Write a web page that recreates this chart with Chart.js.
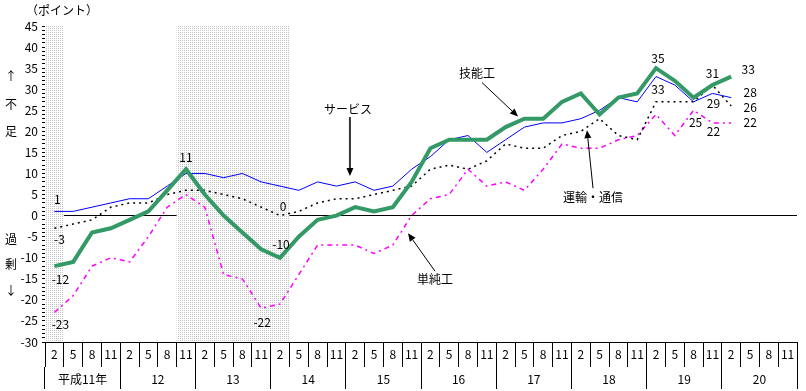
<!DOCTYPE html>
<html><head><meta charset="utf-8">
<script src="https://cdn.jsdelivr.net/npm/chart.js@4/dist/chart.umd.min.js"></script>
<style>html,body{margin:0;padding:0;background:#fff;}#wrap{position:relative;width:806px;height:391px;}</style>
</head><body><div id="wrap"><canvas id="c" width="806" height="391"></canvas></div>
<script>
// ---- data ----
const years = ['平成11年','12','13','14','15','16','17','18','19','20'];
const months = ['2','5','8','11'];
const seriesNames = ['技能工','サービス','運輸・通信','単純工'];
const skilled   = [-12,-11,-4,-3,-1,1,6,11,5,0,-4,-8,-10,-5,-1,0,2,1,2,8,16,18,18,18,21,23,23,27,29,24,28,29,35,32,28,31,33];
const service   = [1,1,2,3,4,4,7,10,10,9,10,8,7,6,8,7,8,6,7,11,14,18,19,15,18,21,22,22,23,25,28,27,33,31,27,29,28];
const transport = [-3,-2,-1,2,3,3,5,6,6,5,4,2,0,1,3,4,4,5,6,7,11,12,11,13,17,16,16,19,20,23,19,18,27,27,27,31,26];
const unskilled = [-23,-19,-12,-10,-11,-5,2,5,2,-14,-15,-22,-21,-14,-7,-7,-7,-9,-7,0,4,5,11,7,8,6,11,17,16,16,18,19,24,19,25,22,22];
const shadedSpans = [[0,0],[7,12]]; // category index ranges (recession periods)
const yTickValues = [-30,-25,-20,-15,-10,-5,0,5,10,15,20,25,30,35,40,45];

// ---- build ----
const labels = [];
years.forEach(()=>months.forEach(m=>labels.push(m)));
const allSeries = [skilled, service, transport, unskilled];
const FONT = "'Noto Sans CJK JP','Noto Sans',sans-serif";
Chart.defaults.font.family = FONT;
Chart.defaults.font.size = 12;
Chart.defaults.color = '#000';

function makePattern(){
  const p = document.createElement('canvas'); p.width=2; p.height=2;
  const g = p.getContext('2d');
  g.fillStyle='#fff'; g.fillRect(0,0,2,2);
  g.fillStyle='#c4c4c4'; g.fillRect(0,0,1,1);
  return p;
}

const shadePlugin = {
  id:'shade',
  beforeDatasetsDraw(chart){
    const {ctx, chartArea:a, scales:{x}} = chart;
    const pat = ctx.createPattern(makePattern(),'repeat');
    const half = (x.getPixelForValue(1)-x.getPixelForValue(0))/2;
    ctx.save();
    ctx.fillStyle = pat;
    shadedSpans.forEach(([s,e])=>{
      const x0 = x.getPixelForValue(s)-half, x1 = x.getPixelForValue(e)+half;
      ctx.fillRect(x0, a.top, x1-x0, a.bottom-a.top);
    });
    ctx.restore();
  }
};

// label specs: series index, category index, offsets
const labelSpecs = [
  {s:1,i:0,dx:3,dy:-12},{s:2,i:0,dx:5,dy:11},{s:0,i:0,dx:6,dy:13},{s:3,i:0,dx:6,dy:12},
  {s:0,i:7,dx:0,dy:-12},{s:2,i:12,dx:3,dy:-9},{s:0,i:12,dx:1,dy:-13},{s:3,i:11,dx:1,dy:14},
  {s:0,i:32,dx:2,dy:-10},{s:1,i:32,dx:2,dy:13},
  {s:0,i:35,dx:0,dy:-12},{s:1,i:35,dx:1,dy:10},{s:3,i:34,dx:2,dy:12},{s:3,i:35,dx:1,dy:9},
  {s:0,i:36,dx:17,dy:-7},{s:1,i:36,dx:19,dy:-5},{s:2,i:36,dx:19,dy:1},{s:3,i:36,dx:19,dy:0}
];
const labelPlugin = {
  id:'dlabels',
  afterDatasetsDraw(chart){
    const {ctx, scales:{x,y}} = chart;
    ctx.save();
    ctx.font = '12px '+FONT; ctx.fillStyle='#000';
    ctx.textAlign='center'; ctx.textBaseline='middle';
    labelSpecs.forEach(l=>{
      const v = allSeries[l.s][l.i];
      ctx.fillText(String(v), x.getPixelForValue(l.i)+l.dx, y.getPixelForValue(v)+l.dy);
    });
    ctx.restore();
  }
};

// annotations anchored on series
const notes = [
  {text:'サービス', s:1, at:15.72, tipDy:-7, tdx:-2, tdy:-67, sdx:0, sdy:-59, w:2, col:'#333'},
  {text:'技能工', s:0, at:24.66, tipDy:-5, tdx:-41, tdy:-43, sdx:-36, sdy:-34, w:1, col:'#000'},
  {text:'単純工', s:3, at:18.81, tipDy:12, tdx:27, tdy:46, sdx:27, sdy:38, w:1, col:'#000'},
  {text:'運輸・通信', s:2, at:28.33, tipDy:3, tdx:6, tdy:67, sdx:6, sdy:58, w:1, col:'#000'}
];
function interp(arr, t){
  const i = Math.floor(t), f = t-i;
  return arr[i] + (arr[Math.min(i+1,arr.length-1)]-arr[i])*f;
}
const notePlugin = {
  id:'notes',
  afterDraw(chart){
    const {ctx, scales:{x,y}} = chart;
    ctx.save();
    ctx.font = '12px '+FONT;
    ctx.textAlign='center'; ctx.textBaseline='middle';
    notes.forEach(n=>{
      const tx = x.getPixelForValue(n.at), ty = y.getPixelForValue(interp(allSeries[n.s], n.at)) + n.tipDy;
      ctx.fillStyle='#000';
      ctx.fillText(n.text, tx+n.tdx, ty+n.tdy);
      const sx = tx+n.sdx, sy = ty+n.sdy;
      const ang = Math.atan2(ty-sy, tx-sx);
      const L=8, W=3.5;
      const bx = tx - L*Math.cos(ang), by = ty - L*Math.sin(ang);
      ctx.strokeStyle=n.col; ctx.lineWidth=n.w;
      ctx.beginPath(); ctx.moveTo(sx,sy); ctx.lineTo(bx,by); ctx.stroke();
      ctx.fillStyle='#000';
      ctx.beginPath(); ctx.moveTo(tx,ty);
      ctx.lineTo(bx + W*Math.sin(ang), by - W*Math.cos(ang));
      ctx.lineTo(bx - W*Math.sin(ang), by + W*Math.cos(ang));
      ctx.closePath(); ctx.fill();
    });
    // side captions
    ctx.font = '12px '+FONT; ctx.fillStyle='#000';
    ctx.textAlign='left'; ctx.textBaseline='middle';
    ctx.fillText('（ポイント）', 26, 10);
    ctx.textAlign='center';
    [['↑',76],['不',104],['足',131],['過',239],['剰',264],['↓',290]].forEach(([t,yy])=>ctx.fillText(t,11,yy));
    ctx.restore();
  }
};

new Chart(document.getElementById('c'), {
  type:'line',
  data:{
    labels,
    datasets:[
      {label:seriesNames[0], data:skilled, borderColor:'#339966', borderWidth:4, pointRadius:0, tension:0},
      {label:seriesNames[1], data:service, borderColor:'#0000ff', borderWidth:1, pointRadius:0, tension:0},
      {label:seriesNames[2], data:transport, borderColor:'#000000', borderWidth:1.5, borderDash:[2,4], pointRadius:0, tension:0},
      {label:seriesNames[3], data:unskilled, borderColor:'#ff00ff', borderWidth:1.5, borderDash:[5,4,2,4], pointRadius:0, tension:0}
    ]
  },
  options:{
    responsive:false, animation:false, devicePixelRatio:1,
    layout:{padding:{top:26,right:9,left:0,bottom:0}},
    plugins:{legend:{display:false}, tooltip:{enabled:false}},
    scales:{
      x:{
        type:'category', offset:true, position:'bottom',
        grid:{offset:true, drawOnChartArea:false, tickLength:25, color:'#000', tickColor:'#000'},
        border:{display:true, color:'#000', width:1},
        ticks:{autoSkip:false, maxRotation:0, padding:-20, font:{size:12}},
        afterFit(s){ s.height = 25; }
      },
      x2:{
        type:'category', labels:years, offset:true, position:'bottom',
        grid:{offset:true, drawOnChartArea:false, tickLength:22, color:'#000', tickColor:'#000'},
        border:{display:false},
        ticks:{autoSkip:false, maxRotation:0, padding:-17, font:{size:12}},
        afterFit(s){ s.height = 24; }
      },
      y:{
        min:-30, max:45,
        afterBuildTicks(s){
          const t=[]; for(let v=-30; v<=45; v++) t.push({value:v}); s.ticks=t;
        },
        grid:{
          color:(c)=> (c.tick && c.tick.value===0) ? '#000' : 'rgba(0,0,0,0)',
          lineWidth:1, tickLength:3, tickColor:'#000'
        },
        border:{display:true, color:'#000', width:1},
        ticks:{autoSkip:false, padding:4, font:{size:12},
          callback:(v)=> yTickValues.includes(v) ? String(v) : ''},
        afterFit(s){ s.width = 45; }
      }
    }
  },
  plugins:[shadePlugin, labelPlugin, notePlugin]
});
</script></body></html>
